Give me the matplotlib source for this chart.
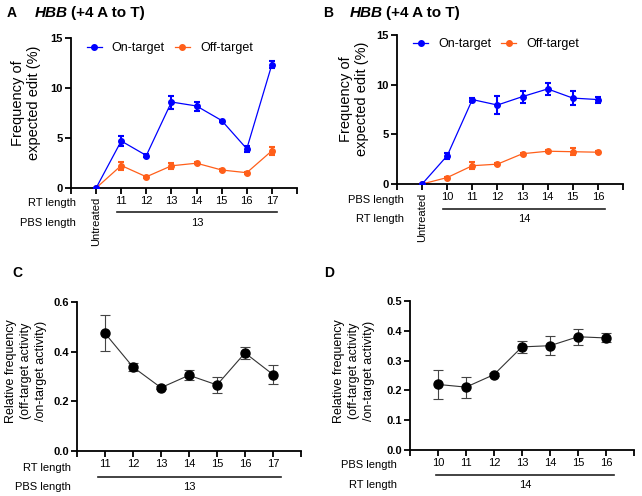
import matplotlib
matplotlib.use("Agg")
import matplotlib.pyplot as plt
import matplotlib.transforms as mtransforms
from matplotlib.lines import Line2D
import numpy as np

plt.rcParams['font.family'] = ['Liberation Sans', 'DejaVu Sans']

# ---------------- data ----------------
rt_lengths_A = ['11', '12', '13', '14', '15', '16', '17']
on_A = [0.0, 4.7, 3.25, 8.6, 8.2, 6.75, 3.92, 12.35]
on_A_err = [0.05, 0.5, 0.12, 0.65, 0.45, 0.1, 0.3, 0.35]
off_A = [0.0, 2.25, 1.12, 2.22, 2.48, 1.8, 1.53, 3.72]
off_A_err = [0.05, 0.4, 0.1, 0.3, 0.12, 0.1, 0.1, 0.4]

pbs_lengths_B = ['10', '11', '12', '13', '14', '15', '16']
on_B = [0.0, 2.85, 8.5, 7.95, 8.8, 9.57, 8.65, 8.5]
on_B_err = [0.05, 0.3, 0.2, 0.95, 0.6, 0.6, 0.7, 0.3]
off_B = [0.0, 0.65, 1.84, 2.0, 3.05, 3.3, 3.25, 3.2]
off_B_err = [0.05, 0.08, 0.35, 0.1, 0.1, 0.1, 0.35, 0.1]

rel_C = [0.474, 0.338, 0.255, 0.305, 0.266, 0.395, 0.308]
rel_C_err = [0.072, 0.015, 0.006, 0.02, 0.034, 0.023, 0.037]

rel_D = [0.220, 0.211, 0.253, 0.346, 0.350, 0.380, 0.376]
rel_D_err = [0.05, 0.035, 0.004, 0.021, 0.031, 0.027, 0.015]

fixed_A = '13'
fixed_B = '14'

W, H = 642, 496
fig = plt.figure(figsize=(W / 100, H / 100), dpi=100)


def ax_px(l, t, r, b):
    return fig.add_axes([l / W, 1 - b / H, (r - l) / W, (b - t) / H])


def fx(x):
    return x / W


def fy(y):
    return 1 - y / H


BLUE = '#0000ff'
ORANGE = '#ff5f1a'


def style(ax, yticks, ylim, xlim):
    for s in ['top', 'right']:
        ax.spines[s].set_visible(False)
    for s in ['left', 'bottom']:
        ax.spines[s].set_linewidth(1.3)
    ax.set_ylim(*ylim)
    ax.set_xlim(*xlim)
    ax.set_yticks(yticks)
    ax.tick_params(axis='both', direction='out', length=4, width=1.3, labelsize=8, pad=2)
    for lab in ax.get_yticklabels():
        lab.set_fontweight('bold')


def group_line(ax, x0, x1, ypx, label, label_ypx):
    tr = mtransforms.blended_transform_factory(ax.transData, fig.transFigure)
    ax.plot([x0, x1], [fy(ypx), fy(ypx)], color='#222222', lw=1.2, transform=tr, clip_on=False)
    ax.text((x0 + x1) / 2, fy(label_ypx), label, transform=tr, ha='center', va='center', fontsize=8)


def title(xl, xt, y, letter, show_gene=True):
    fig.text(fx(xl), fy(y), letter, fontsize=10, fontweight='bold', ha='left', va='center')
    if show_gene:
        t1 = fig.text(fx(xt), fy(y), 'HBB', fontsize=11, fontweight='bold', style='italic',
                      ha='left', va='center')
        fig.canvas.draw()
        bb = t1.get_window_extent(renderer=fig.canvas.get_renderer())
        fig.text(bb.x1 / W + 0.004, fy(y), '(+4 A to T)', fontsize=11, fontweight='bold',
                 ha='left', va='center')


def legend_handles():
    return [Line2D([], [], color=BLUE, lw=0.9, marker='o', ms=4, label='On-target'),
            Line2D([], [], color=ORANGE, lw=0.9, marker='o', ms=4, label='Off-target')]


def two_series(ax, x, on, on_err, off, off_err):
    ax.errorbar(x, on, yerr=on_err, color=BLUE, ecolor=BLUE, marker='o', ms=4,
                lw=0.9, elinewidth=1.5, capsize=2.5, capthick=1.5, zorder=3)
    ax.errorbar(x, off, yerr=off_err, color=ORANGE, ecolor=ORANGE, marker='o', ms=4,
                lw=0.9, elinewidth=1.5, capsize=2.5, capthick=1.5, zorder=2)


# ---------------- Panel A ----------------
axA = ax_px(71, 38, 297, 188)
xA = np.arange(0, 8)
two_series(axA, xA, on_A, on_A_err, off_A, off_A_err)
style(axA, [0, 5, 10, 15], (0, 15), (-1, 8))
axA.set_xticks(np.arange(-1, 9))
axA.set_xticklabels([''] + ['Untreated'] + rt_lengths_A + [''])
axA.get_xticklabels()[1].set_rotation(90)
axA.legend(handles=legend_handles(), loc='center left', bbox_to_anchor=(0.07, 0.933), ncol=2,
           frameon=False, fontsize=9, handlelength=1.2, handletextpad=0.8, columnspacing=0.8,
           borderaxespad=0, borderpad=0)
fig.text(fx(26), fy(103), 'Frequency of\nexpected edit (%)', rotation=90, ha='center',
         va='center', fontsize=10.5, multialignment='center', linespacing=1.15)
fig.text(fx(76), fy(203), 'RT length', ha='right', va='center', fontsize=8)
fig.text(fx(76), fy(223), 'PBS length', ha='right', va='center', fontsize=8)
group_line(axA, 0.82, 7.22, 212, fixed_A, 223)

# ---------------- Panel B ----------------
axB = ax_px(397, 35, 623, 184)
two_series(axB, xA, on_B, on_B_err, off_B, off_B_err)
style(axB, [0, 5, 10, 15], (0, 15), (-1, 8))
axB.set_xticks(np.arange(-1, 9))
axB.set_xticklabels([''] + ['Untreated'] + pbs_lengths_B + [''])
axB.get_xticklabels()[1].set_rotation(90)
axB.legend(handles=legend_handles(), loc='center left', bbox_to_anchor=(0.071, 0.94), ncol=2,
           frameon=False, fontsize=9, handlelength=1.2, handletextpad=0.8, columnspacing=0.8,
           borderaxespad=0, borderpad=0)
fig.text(fx(354), fy(99), 'Frequency of\nexpected edit (%)', rotation=90, ha='center',
         va='center', fontsize=10.5, multialignment='center', linespacing=1.15)
fig.text(fx(404), fy(200), 'PBS length', ha='right', va='center', fontsize=8)
fig.text(fx(404), fy(219), 'RT length', ha='right', va='center', fontsize=8)
group_line(axB, 0.84, 7.28, 209, fixed_B, 219)


def ratio_series(ax, x, y, yerr):
    ax.errorbar(x, y, yerr=yerr, color='#333333', ecolor='#444444', marker='o', ms=6.5,
                mfc='black', mec='black', lw=0.8, elinewidth=0.8, capsize=3.5,
                capthick=0.8, zorder=3)


# ---------------- Panel C ----------------
axC = ax_px(77, 302, 301, 451)
xC = np.arange(1, 8)
ratio_series(axC, xC, rel_C, rel_C_err)
style(axC, [0.0, 0.2, 0.4, 0.6], (0, 0.6), (0, 8))
axC.set_yticklabels(['0.0', '0.2', '0.4', '0.6'])
for lab in axC.get_yticklabels():
    lab.set_fontweight('bold')
axC.set_xticks(np.arange(0, 9))
axC.set_xticklabels([''] + rt_lengths_A + [''])
fig.text(fx(26), fy(371), 'Relative frequency\n(off-target activity\n/on-target activity)',
         rotation=90, ha='center', va='center', fontsize=9, multialignment='center',
         linespacing=1.35)
fig.text(fx(71), fy(468), 'RT length', ha='right', va='center', fontsize=8)
fig.text(fx(71), fy(487), 'PBS length', ha='right', va='center', fontsize=8)
group_line(axC, 0.75, 7.29, 477, fixed_A, 487)

# ---------------- Panel D ----------------
axD = ax_px(410, 301, 634, 450)
ratio_series(axD, xC, rel_D, rel_D_err)
style(axD, [0.0, 0.1, 0.2, 0.3, 0.4, 0.5], (0, 0.5), (0, 8))
axD.set_yticklabels(['0.0', '0.1', '0.2', '0.3', '0.4', '0.5'])
for lab in axD.get_yticklabels():
    lab.set_fontweight('bold')
axD.set_xticks(np.arange(0, 9))
axD.set_xticklabels([''] + pbs_lengths_B + [''])
fig.text(fx(354), fy(371), 'Relative frequency\n(off-target activity\n/on-target activity)',
         rotation=90, ha='center', va='center', fontsize=9, multialignment='center',
         linespacing=1.35)
fig.text(fx(397), fy(465), 'PBS length', ha='right', va='center', fontsize=8)
fig.text(fx(397), fy(485), 'RT length', ha='right', va='center', fontsize=8)
group_line(axD, 0.93, 7.29, 475, fixed_B, 485)

# ---------------- titles ----------------
title(7, 35, 13, 'A')
title(323, 350, 13, 'B')
title(12, 0, 273, 'C', show_gene=False)
title(324, 0, 273, 'D', show_gene=False)

fig.savefig('out.png', dpi=100)
